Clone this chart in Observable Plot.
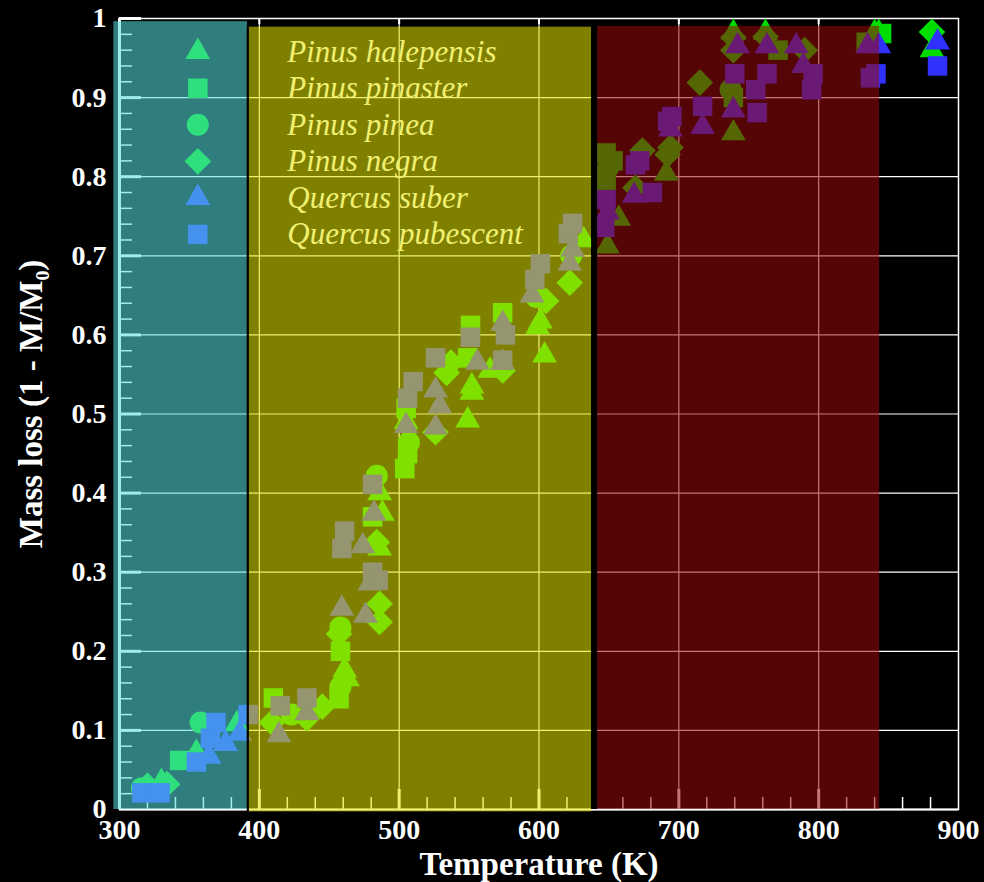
<!DOCTYPE html>
<html><head><meta charset="utf-8">
<script src="https://cdn.jsdelivr.net/npm/d3@7"></script>
<script src="https://cdn.jsdelivr.net/npm/@observablehq/plot@0.6"></script>
<style>html,body{margin:0;padding:0;background:#000;overflow:hidden}</style>
</head><body><div id="chart"></div>
<script>
// ---------- data ----------
const xTicks = [300, 400, 500, 600, 700, 800, 900];
const yTicks = [0, 0.1, 0.2, 0.3, 0.4, 0.5, 0.6, 0.7, 0.8, 0.9, 1];
const yTickLabels = ["0", "0.1", "0.2", "0.3", "0.4", "0.5", "0.6", "0.7", "0.8", "0.9", "1"];
const xLabel = "Temperature (K)";
const yLabel = "Mass loss (1 - M/M\u2080)";

const seriesNames = ["Pinus halepensis", "Pinus pinaster", "Pinus pinea", "Pinus negra", "Quercus suber", "Quercus pubescent"];

// [temperature K, mass loss]
const pinusHalepensis = [[330,0.035],[355,0.072],[384,0.108],[461,0.176],[463,0.165],[486,0.33],[488,0.374],[486,0.40],[505,0.49],[549,0.492],[552,0.535],[552,0.527],[565,0.555],[599,0.61],[601,0.617],[604,0.574],[632,0.72],[649,0.712],[657,0.747],[691,0.804],[739,0.855],[739,0.982],[762,0.982],[840,0.982],[843,0.982],[881,0.96]];
const pinusPinaster = [[343,0.062],[410,0.141],[457,0.14],[458,0.2],[481,0.37],[504,0.431],[506,0.45],[505,0.507],[549,0.571],[551,0.612],[574,0.628],[648,0.795],[648,0.83],[653,0.82],[739,0.90],[771,0.96],[834,0.97],[845,0.981]];
const pinusPinea = [[316,0.027],[358,0.11],[423,0.12],[458,0.155],[458,0.23],[484,0.422],[507,0.464],[598,0.648],[623,0.70],[649,0.81],[737,0.91]];
const pinusNegra = [[320,0.03],[334,0.032],[409,0.11],[434,0.115],[445,0.13],[457,0.222],[486,0.237],[486,0.26],[484,0.338],[526,0.477],[534,0.552],[537,0.565],[574,0.555],[605,0.643],[622,0.666],[669,0.786],[674,0.833],[692,0.828],[694,0.837],[715,0.919],[739,0.96],[739,0.976],[762,0.977],[790,0.96],[881,0.983]];
const quercusSuber = [[364,0.067],[376,0.083],[386,0.096],[414,0.094],[434,0.122],[459,0.254],[476,0.245],[479,0.286],[474,0.333],[482,0.374],[505,0.485],[526,0.483],[529,0.51],[526,0.53],[556,0.565],[574,0.565],[574,0.614],[595,0.65],[622,0.69],[624,0.708],[649,0.755],[668,0.776],[694,0.86],[717,0.863],[739,0.884],[742,0.965],[763,0.965],[784,0.965],[789,0.94],[835,0.965],[843,0.965],[885,0.97]];
const quercusPubescent = [[316,0.021],[329,0.021],[355,0.06],[365,0.09],[369,0.11],[392,0.12],[415,0.131],[434,0.141],[459,0.33],[461,0.352],[481,0.30],[485,0.29],[481,0.411],[506,0.52],[510,0.541],[526,0.571],[551,0.597],[574,0.568],[576,0.60],[597,0.67],[601,0.69],[621,0.728],[624,0.741],[647,0.736],[648,0.771],[669,0.815],[672,0.82],[681,0.78],[692,0.87],[695,0.876],[717,0.889],[740,0.93],[755,0.91],[756,0.881],[763,0.93],[795,0.91],[796,0.93],[837,0.925],[841,0.93],[885,0.94]];

// shaded temperature stages
const regionNames = ["stage1", "stage2", "stage3"];
const regionStartK = [296, 392, 641];
const regionEndK = [391.5, 637.8, 843.6];
const regionTop = [0.996, 0.989, 0.99];
const regionBottom = [0, -0.003, 0];

// ---------- styles ----------
const W = 984, H = 882;
const mL = 119, mR = 26, mT = 18, mB = 73;
const frameW = W - mL - mR, frameH = H - mT - mB;
const GREEN = "#00dd00", BLUE = "#3030ff";
const seriesData = [pinusHalepensis, pinusPinaster, pinusPinea, pinusNegra, quercusSuber, quercusPubescent];
const seriesSymbols = ["triangle", "square", "circle", "diamond2", "triangle", "square"];
const seriesFills = [GREEN, GREEN, GREEN, GREEN, BLUE, BLUE];
const symbolR = {triangle: 9.2, square: 11, circle: 11, diamond2: 12};
const regionFills = ["#54dfdf", "#e4e400", "#980909"];
const overlayOpacity = 0.56;
const FONT = "Liberation Serif, Times New Roman, serif";

// legend layout (data coordinates)
const legendSymbolK = 356, legendTextK = 420, legendTopY = 0.958, legendStepY = 0.0462;

// ---------- tables ----------
const regions = regionNames.map((name, i) => ({name, x1: regionStartK[i], x2: regionEndK[i], y1: regionBottom[i], y2: regionTop[i]}));
const separators = regions.slice(1).map((r, i) => ({x: (regions[i].x2 + r.x1) / 2, y1: r.y1, y2: r.y2, w: (r.x1 - regions[i].x2) * frameW / 600 + 1.5}));
const gridX = xTicks.slice(1, -1);
const gridY = yTicks.slice(1, -1);
const yMajor = yTicks.slice(1);
const yMinor = d3.range(0, 1.0001, 0.02).filter(v => Math.abs(v * 10 - Math.round(v * 10)) > 1e-6);
const xMinor = d3.range(300, 900.1, 20).filter(v => v % 100 !== 0);
const legendRows = seriesNames.map((name, i) => ({name, i}));

const marks = [
  Plot.ruleX(gridX, {x: d => d, stroke: "white", strokeWidth: 1.2}),
  Plot.ruleY(gridY, {y: d => d, stroke: "white", strokeWidth: 1.2}),
  Plot.frame({stroke: "white", strokeWidth: 1.5}),
  Plot.ruleX([xTicks[0]], {x: d => d, stroke: "white", strokeWidth: 3}),
  Plot.ruleY([yTicks[0]], {y: d => d, stroke: "white", strokeWidth: 2}),
  Plot.tickY(yMajor, {y: d => d, insetRight: frameW - 22, stroke: "white", strokeWidth: 3}),
  Plot.tickY(yMinor, {y: d => d, insetRight: frameW - 13, stroke: "white", strokeWidth: 1.5}),
  Plot.tickX(gridX, {x: d => d, insetTop: frameH - 20, stroke: "white", strokeWidth: 3}),
  Plot.tickX(xMinor, {x: d => d, insetTop: frameH - 12, stroke: "white", strokeWidth: 1.5}),
  Plot.tickX(gridX, {x: d => d, insetBottom: frameH - 6, stroke: "white", strokeWidth: 2})
];

seriesData.forEach((pts, i) => {
  marks.push(Plot.dot(pts, {x: d => d[0], y: d => d[1], symbol: seriesSymbols[i], r: symbolR[seriesSymbols[i]], fill: seriesFills[i], stroke: "none"}));
});

legendRows.forEach((row) => {
  marks.push(Plot.dot([row], {x: () => legendSymbolK, y: d => legendTopY - d.i * legendStepY, symbol: seriesSymbols[row.i], r: symbolR[seriesSymbols[row.i]], fill: seriesFills[row.i]}));
});
marks.push(Plot.text(legendRows, {x: () => legendTextK, y: d => legendTopY - d.i * legendStepY, text: "name", textAnchor: "start", lineAnchor: "middle", fill: "white", fontSize: 31, fontStyle: "italic", fontFamily: FONT}));

marks.push(Plot.rect(regions, {x1: "x1", x2: "x2", y1: "y1", y2: "y2", fill: "name", fillOpacity: overlayOpacity}));
separators.forEach(s => {
  marks.push(Plot.ruleX([s], {x: "x", y1: "y1", y2: "y2", stroke: "black", strokeWidth: s.w}));
});

// axis labels
marks.push(Plot.text(yTicks, {y: d => d, text: (d, i) => yTickLabels[i], frameAnchor: "left", textAnchor: "end", lineAnchor: "middle", dx: -13, fill: "white", fontSize: 28, fontWeight: "bold", fontFamily: FONT}));
marks.push(Plot.text(xTicks, {x: d => d, text: d => String(d), frameAnchor: "bottom", textAnchor: "middle", lineAnchor: "middle", dy: 21, fill: "white", fontSize: 28, fontWeight: "bold", fontFamily: FONT}));
marks.push(Plot.text([xLabel], {text: d => d, frameAnchor: "bottom", textAnchor: "middle", lineAnchor: "middle", dy: 55, fill: "white", fontSize: 33, fontWeight: "bold", fontFamily: FONT}));
marks.push(Plot.text([yLabel], {text: d => d, frameAnchor: "left", textAnchor: "middle", lineAnchor: "middle", dx: -88, dy: -10, rotate: -90, fill: "white", fontSize: 33, fontWeight: "bold", fontFamily: FONT}));

const chart = Plot.plot({
  width: W, height: H,
  marginLeft: mL, marginRight: mR, marginTop: mT, marginBottom: mB,
  x: {domain: [300, 900], axis: null},
  y: {domain: [0, 1], axis: null},
  color: {type: "ordinal", domain: regionNames, range: regionFills},
  style: {background: "black", color: "white", fontFamily: FONT, overflow: "visible"},
  marks
});
document.getElementById("chart").appendChild(chart);
</script>
</body></html>
